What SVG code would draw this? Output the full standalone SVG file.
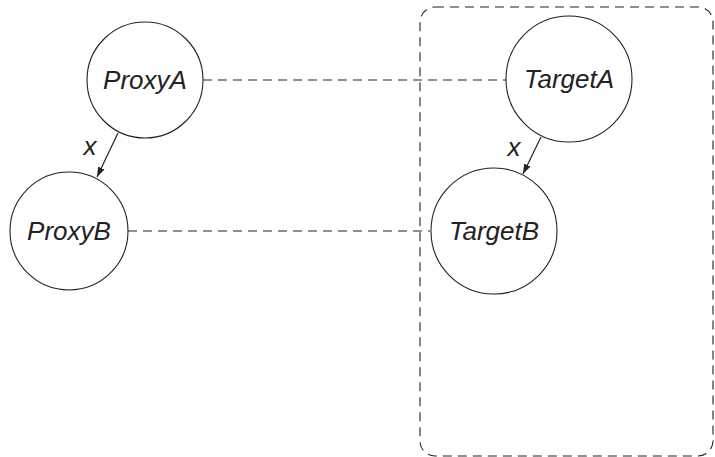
<svg xmlns="http://www.w3.org/2000/svg" width="715" height="457" viewBox="0 0 715 457">
<style>
.node{fill:#fff;stroke:#222;stroke-width:1.1}
.lbl{font-family:"Liberation Sans",Arial,sans-serif;font-style:italic;font-size:26px;fill:#222;text-anchor:middle}
.dash{fill:none;stroke:#222;stroke-width:1.1;stroke-dasharray:9,6}
.edge{stroke:#222;stroke-width:1.2;fill:none}
</style>
<defs>
<marker id="ah" viewBox="0 0 10 10" refX="10" refY="5" markerWidth="10" markerHeight="10" markerUnits="userSpaceOnUse" orient="auto">
<path d="M0,1.5 L10,5 L0,8.5 Z" fill="#222"/>
</marker>
</defs>
<rect id="plate" class="dash" x="420" y="7" width="293" height="449" rx="15" ry="15"/>
<g id="connectors">
<line class="dash" x1="203" y1="80" x2="506" y2="80"/>
<line class="dash" x1="128" y1="231" x2="430" y2="231"/>
<line class="edge" x1="118" y1="133" x2="97" y2="177" marker-end="url(#ah)"/>
<line class="edge" x1="541" y1="137" x2="523" y2="174" marker-end="url(#ah)"/>
<text class="lbl" x="90" y="155" font-size="22">x</text>
<text class="lbl" x="514" y="156" font-size="22">x</text>
</g>
<g id="ProxyA"><circle class="node" cx="145" cy="80" r="58"/><text class="lbl" x="145" y="89">ProxyA</text></g>
<g id="ProxyB"><circle class="node" cx="69" cy="231" r="59"/><text class="lbl" x="69" y="240">ProxyB</text></g>
<g id="TargetA"><circle class="node" cx="569" cy="79" r="63"/><text class="lbl" x="569" y="88">TargetA</text></g>
<g id="TargetB"><circle class="node" cx="494" cy="231" r="63"/><text class="lbl" x="494" y="240">TargetB</text></g>
</svg>
